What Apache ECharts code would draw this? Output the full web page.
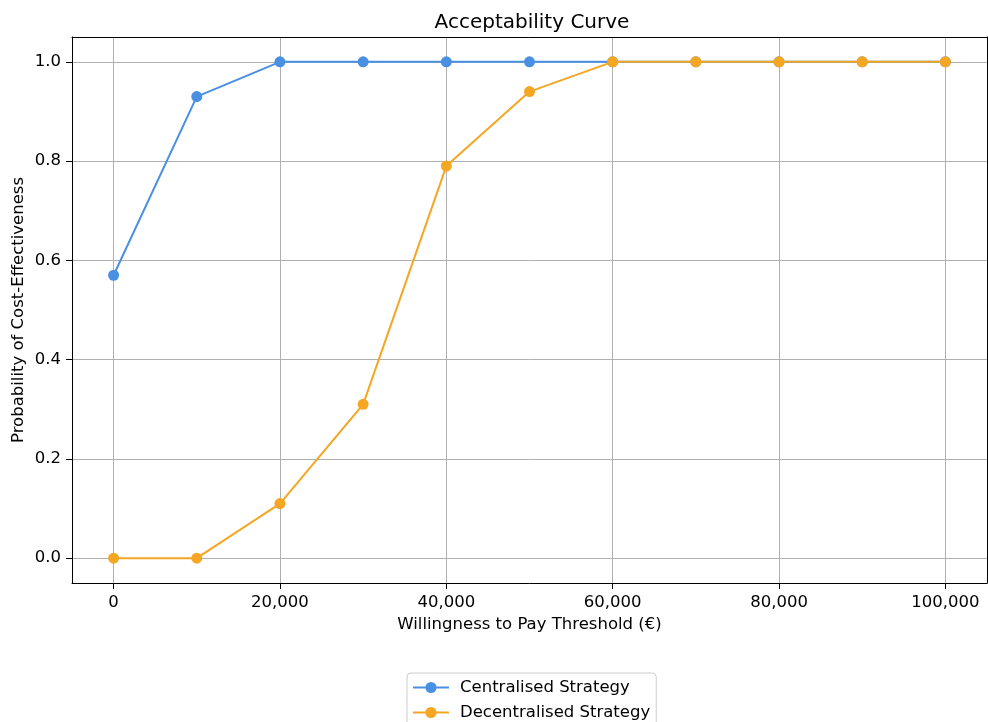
<!DOCTYPE html>
<html>
<head>
<meta charset="utf-8">
<script src="https://cdn.jsdelivr.net/npm/echarts@6/dist/echarts.min.js"></script>
<style>html,body{margin:0;padding:0;background:#fff}#c{width:988px;height:722px}</style>
</head>
<body>
<div id="c"></div>
<script>
const thresholds = [0, 10000, 20000, 30000, 40000, 50000, 60000, 70000, 80000, 90000, 100000];
const centralised = [0.57, 0.93, 1.0, 1.0, 1.0, 1.0, 1.0, 1.0, 1.0, 1.0, 1.0];
const decentralised = [0.0, 0.0, 0.11, 0.31, 0.79, 0.94, 1.0, 1.0, 1.0, 1.0, 1.0];
const xTicks = [0, 20000, 40000, 60000, 80000, 100000];
const yTicks = [0, 0.2, 0.4, 0.6, 0.8, 1.0];
const seriesNames = ['Centralised Strategy', 'Decentralised Strategy'];
const colors = ['#4a90e2', '#f5a623'];

const font = 'DejaVu Sans';
const fs = 16.5;
const chart = echarts.init(document.getElementById('c'), null, {renderer: 'canvas'});
const fmtX = v => Number(v).toLocaleString('en-US');
chart.setOption({
  animation: false,
  backgroundColor: '#fff',
  textStyle: {fontFamily: font},
  title: {
    text: 'Acceptability Curve', left: 527, top: 8, textAlign: 'center',
    textStyle: {fontFamily: font, fontSize: 20, fontWeight: 'normal', color: '#000'}
  },
  grid: {left: 72, right: 1, top: 37, bottom: 139, containLabel: false},
  legend: {
    orient: 'vertical', left: 407, top: 673, height: 70,
    padding: [6, 6, 8, 5],
    itemWidth: 36, itemHeight: 14, itemGap: 8,
    borderColor: '#cccccc', borderWidth: 1, borderRadius: 4,
    textStyle: {fontFamily: font, fontSize: fs, color: '#000', padding: [0, 0, 0, 6]},
    data: seriesNames
  },
  xAxis: [{
    type: 'value', min: -5000, max: 105000,
    name: 'Willingness to Pay Threshold (€)', nameLocation: 'middle', nameGap: 33,
    nameTextStyle: {fontFamily: font, fontSize: fs, color: '#000'},
    axisLine: {show: true, onZero: false, lineStyle: {color: '#000', width: 1}},
    axisTick: {show: true, length: 6, customValues: xTicks, lineStyle: {color: '#000'}},
    axisLabel: {customValues: xTicks, formatter: fmtX, margin: 11, fontFamily: font, fontSize: fs, color: '#000'},
    splitLine: {show: true, lineStyle: {color: '#b0b0b0', width: 1}}
  }, {
    type: 'value', position: 'top', min: -5000, max: 105000,
    axisLine: {show: true, onZero: false, lineStyle: {color: '#000', width: 1}},
    axisTick: {show: false}, axisLabel: {show: false}, splitLine: {show: false}
  }],
  yAxis: [{
    type: 'value', min: -0.05, max: 1.05,
    name: 'Probability of Cost-Effectiveness', nameLocation: 'middle', nameGap: 45,
    nameMoveOverlap: false,
    nameTextStyle: {fontFamily: font, fontSize: fs, color: '#000'},
    axisLine: {show: true, onZero: false, lineStyle: {color: '#000', width: 1}},
    axisTick: {show: true, length: 6, customValues: yTicks, lineStyle: {color: '#000'}},
    axisLabel: {customValues: yTicks, formatter: v => Number(v).toFixed(1), margin: 11, fontFamily: font, fontSize: fs, color: '#000'},
    splitLine: {show: true, lineStyle: {color: '#b0b0b0', width: 1}}
  }, {
    type: 'value', position: 'right', min: -0.05, max: 1.05,
    axisLine: {show: true, onZero: false, lineStyle: {color: '#000', width: 1}},
    axisTick: {show: false}, axisLabel: {show: false}, splitLine: {show: false}
  }],
  series: [
    {
      name: seriesNames[0], type: 'line', data: thresholds.map((x, i) => [x, centralised[i]]),
      color: colors[0], symbol: 'circle', symbolSize: 11,
      lineStyle: {width: 2, color: colors[0]}, itemStyle: {color: colors[0]}, z: 2
    },
    {
      name: seriesNames[1], type: 'line', data: thresholds.map((x, i) => [x, decentralised[i]]),
      color: colors[1], symbol: 'circle', symbolSize: 11,
      lineStyle: {width: 2, color: colors[1]}, itemStyle: {color: colors[1]}, z: 3
    }
  ]
});
</script>
</body>
</html>
